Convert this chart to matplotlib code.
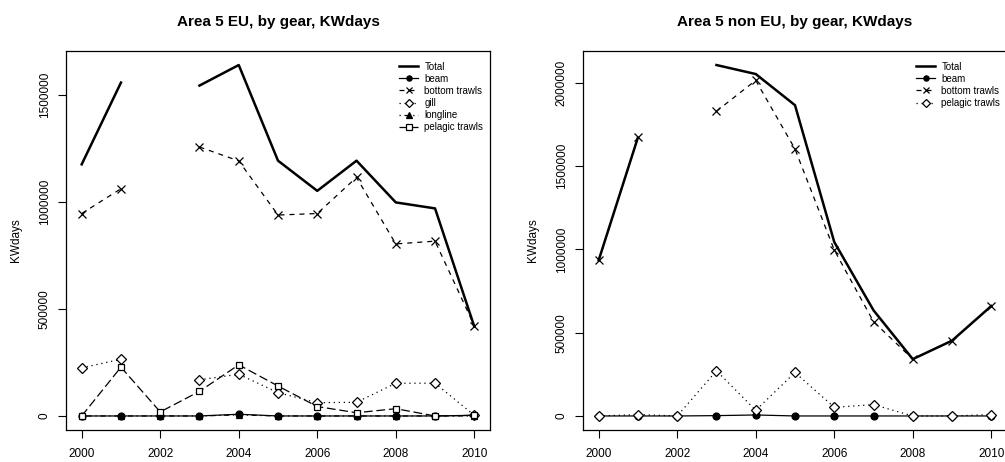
import numpy as np
import matplotlib
matplotlib.use("Agg")
import matplotlib.pyplot as plt

plt.rcParams['font.family'] = ['Liberation Sans', 'DejaVu Sans']

years = np.arange(2000, 2011)
nan = np.nan

# Area 5 EU
eu_total = [1176000, 1558000, nan, 1544000, 1640000, 1193000, 1052000, 1193000, 998000, 970000, 418000]
eu_beam = [0, 0, 0, 0, 8000, 0, 0, 0, 0, 0, 3000]
eu_bottom = [946000, 1062000, nan, 1257000, 1192000, 939000, 946000, 1115000, 804000, 817000, 422000]
eu_gill = [225000, 265000, nan, 169000, 195000, 109000, 62000, 64000, 153000, 153000, 3000]
eu_longline = [0, 0, 0, 0, 5000, 0, 0, 0, 0, 0, 0]
eu_pelagic = [0, 228000, 19000, 115000, 239000, 140000, 44000, 15000, 34000, 0, 3000]

# Area 5 non EU
neu_total = [935000, 1672000, nan, 2106000, 2052000, 1865000, 1044000, 634000, 341000, 452000, 660000]
neu_beam = [0, 0, 0, 2000, 6000, 0, 0, 0, 0, 0, 0]
neu_bottom = [935000, 1672000, nan, 1829000, 2014000, 1602000, 996000, 566000, 341000, 452000, 660000]
neu_pelagic = [0, 8000, 0, 271000, 34000, 261000, 52000, 68000, 0, 0, 8000]

# R-like line styles / symbols per gear, in plotting order
styles = [
    dict(ls='-', marker='o', mfc='black', ms=5),
    dict(ls=(0, (4, 4)), marker='x', mfc='none', ms=6),
    dict(ls=(0, (1, 3)), marker='D', mfc='white', ms=5),
    dict(ls=(0, (1, 3, 4, 3)), marker='^', mfc='black', ms=5),
    dict(ls=(0, (7, 3)), marker='s', mfc='white', ms=5),
]


def panel(ax, title, total, gears, names, yticks):
    ax.plot(years, total, color='black', lw=1.8, label='Total')
    for vals, name, st in zip(gears, names, styles):
        ax.plot(years, vals, color='black', lw=0.9, mec='black', mew=0.9,
                label=name, **st)
    ax.margins(x=0.04, y=0.04)
    ax.set_xticks(np.arange(2000, 2011, 2))
    ax.set_yticks(yticks)
    ax.set_yticklabels([str(t) for t in yticks], rotation=90, va='center')
    ax.tick_params(direction='out', length=6, labelsize=8.5, width=0.8)
    ax.tick_params(axis='x', pad=7)
    ax.tick_params(axis='y', pad=5)
    ax.set_ylabel('KWdays', fontsize=8.5, labelpad=12)
    ax.set_title(title, fontsize=11, fontweight='bold', pad=18)
    for s in ax.spines.values():
        s.set_linewidth(0.9)
    ax.legend(loc='upper right', frameon=False, fontsize=7, handlelength=2.0,
              labelspacing=0.22, borderaxespad=0.3, handletextpad=0.6,
              markerscale=0.75, bbox_to_anchor=(1.0, 0.99))


fig = plt.figure(figsize=(10.05, 4.62), dpi=100)
ax1 = fig.add_axes([66 / 1005, 32 / 462, 424 / 1005, 379 / 462])
ax2 = fig.add_axes([583 / 1005, 32 / 462, 424 / 1005, 379 / 462])

panel(ax1, 'Area 5 EU, by gear, KWdays', eu_total,
      [eu_beam, eu_bottom, eu_gill, eu_longline, eu_pelagic],
      ['beam', 'bottom trawls', 'gill', 'longline', 'pelagic trawls'],
      [0, 500000, 1000000, 1500000])
panel(ax2, 'Area 5 non EU, by gear, KWdays', neu_total,
      [neu_beam, neu_bottom, neu_pelagic],
      ['beam', 'bottom trawls', 'pelagic trawls'],
      [0, 500000, 1000000, 1500000, 2000000])

fig.savefig('out.png', dpi=100)
